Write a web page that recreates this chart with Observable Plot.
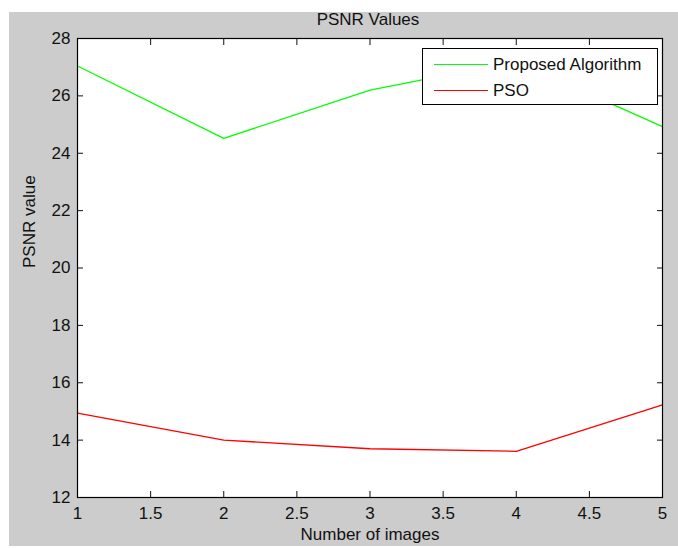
<!DOCTYPE html>
<html>
<head>
<meta charset="utf-8">
<script src="https://cdn.jsdelivr.net/npm/d3@7"></script>
<script src="https://cdn.jsdelivr.net/npm/@observablehq/plot@0.6"></script>
<style>
  html, body { margin: 0; padding: 0; background: #ffffff; }
  #fig { position: relative; width: 678px; height: 548px; overflow: hidden;
         font-family: Arial, "Liberation Sans", sans-serif; color: #111; }
  #panel { position: absolute; left: 9px; top: 12px; right: 0; bottom: 2px; background: #cccccc; }
  #chart { position: absolute; left: 0; top: 0; }
  #title { position: absolute; left: 268px; width: 200px; top: 11px; text-align: center;
           font-size: 17px; line-height: 17px; white-space: nowrap; }
  #legend { position: absolute; left: 422px; top: 48px; width: 234px; height: 55px;
            background: #ffffff; border: 1px solid #000; }
  .swatch { position: absolute; left: 11px; width: 54px; height: 1.4px; }
  .entry { position: absolute; left: 70px; font-size: 17px; line-height: 17px; white-space: nowrap; }
</style>
</head>
<body>
<div id="fig">
  <div id="panel"></div>
  <div id="chart"></div>
  <div id="title">PSNR Values</div>
  <div id="legend"></div>
</div>
<script>
// PSNR per test image for each method
const images = [1, 2, 3, 4, 5];
const proposed = [27.04, 24.52, 26.2, 27.2, 24.93];
const pso = [14.94, 14.0, 13.7, 13.61, 15.23];

const seriesNames = ["Proposed Algorithm", "PSO"];
const seriesColors = ["#00ff00", "#ff0000"];

const xTicks = [1, 1.5, 2, 2.5, 3, 3.5, 4, 4.5, 5];
const yTicks = [12, 14, 16, 18, 20, 22, 24, 26, 28];

const xLabel = "Number of images";
const yLabel = "PSNR value";

// long table for the line mark
const rows = images.flatMap((n, i) => [
  {image: n, psnr: proposed[i], series: seriesNames[0]},
  {image: n, psnr: pso[i], series: seriesNames[1]}
]);

const font = 17;

const chart = Plot.plot({
  width: 678,
  height: 548,
  marginLeft: 77,
  marginRight: 16,
  marginTop: 38,
  marginBottom: 51,
  style: {background: "transparent", fontFamily: "Arial, 'Liberation Sans', sans-serif",
          fontSize: font + "px", color: "#111", overflow: "visible"},
  x: {domain: [1, 5]},
  y: {domain: [12, 28]},
  color: {domain: seriesNames, range: seriesColors},
  marks: [
    Plot.frame({fill: "#ffffff", stroke: null}),
    Plot.line(rows, {x: "image", y: "psnr", z: "series", stroke: "series", strokeWidth: 1.3}),
    // inward ticks on all four sides, labels only bottom and left
    Plot.axisX(xTicks, {anchor: "bottom", tickSize: -6, tickPadding: 15, label: null,
                        fontSize: font, tickFormat: d => String(d)}),
    Plot.axisX(xTicks, {anchor: "top", tickSize: -6, label: null, tickFormat: () => ""}),
    Plot.axisY(yTicks, {anchor: "left", tickSize: -6, tickPadding: 13, label: null,
                        fontSize: font, tickFormat: d => String(d)}),
    Plot.axisY(yTicks, {anchor: "right", tickSize: -6, label: null, tickFormat: () => ""}),
    Plot.frame({stroke: "#000", strokeWidth: 1.2}),
    Plot.text([xLabel], {frameAnchor: "bottom", dy: 42, fontSize: font, fill: "#111"}),
    Plot.text([yLabel], {frameAnchor: "left", dx: -48, rotate: -90, fontSize: font, fill: "#111"})
  ]
});
document.getElementById("chart").appendChild(chart);

// legend box in the upper right of the axes
const legend = document.getElementById("legend");
seriesNames.forEach((name, i) => {
  const sw = document.createElement("div");
  sw.className = "swatch";
  sw.style.top = (14.5 + i * 26) + "px";
  sw.style.background = seriesColors[i];
  legend.appendChild(sw);
  const tx = document.createElement("div");
  tx.className = "entry";
  tx.style.top = (7 + i * 26) + "px";
  tx.textContent = name;
  legend.appendChild(tx);
});
</script>
</body>
</html>
